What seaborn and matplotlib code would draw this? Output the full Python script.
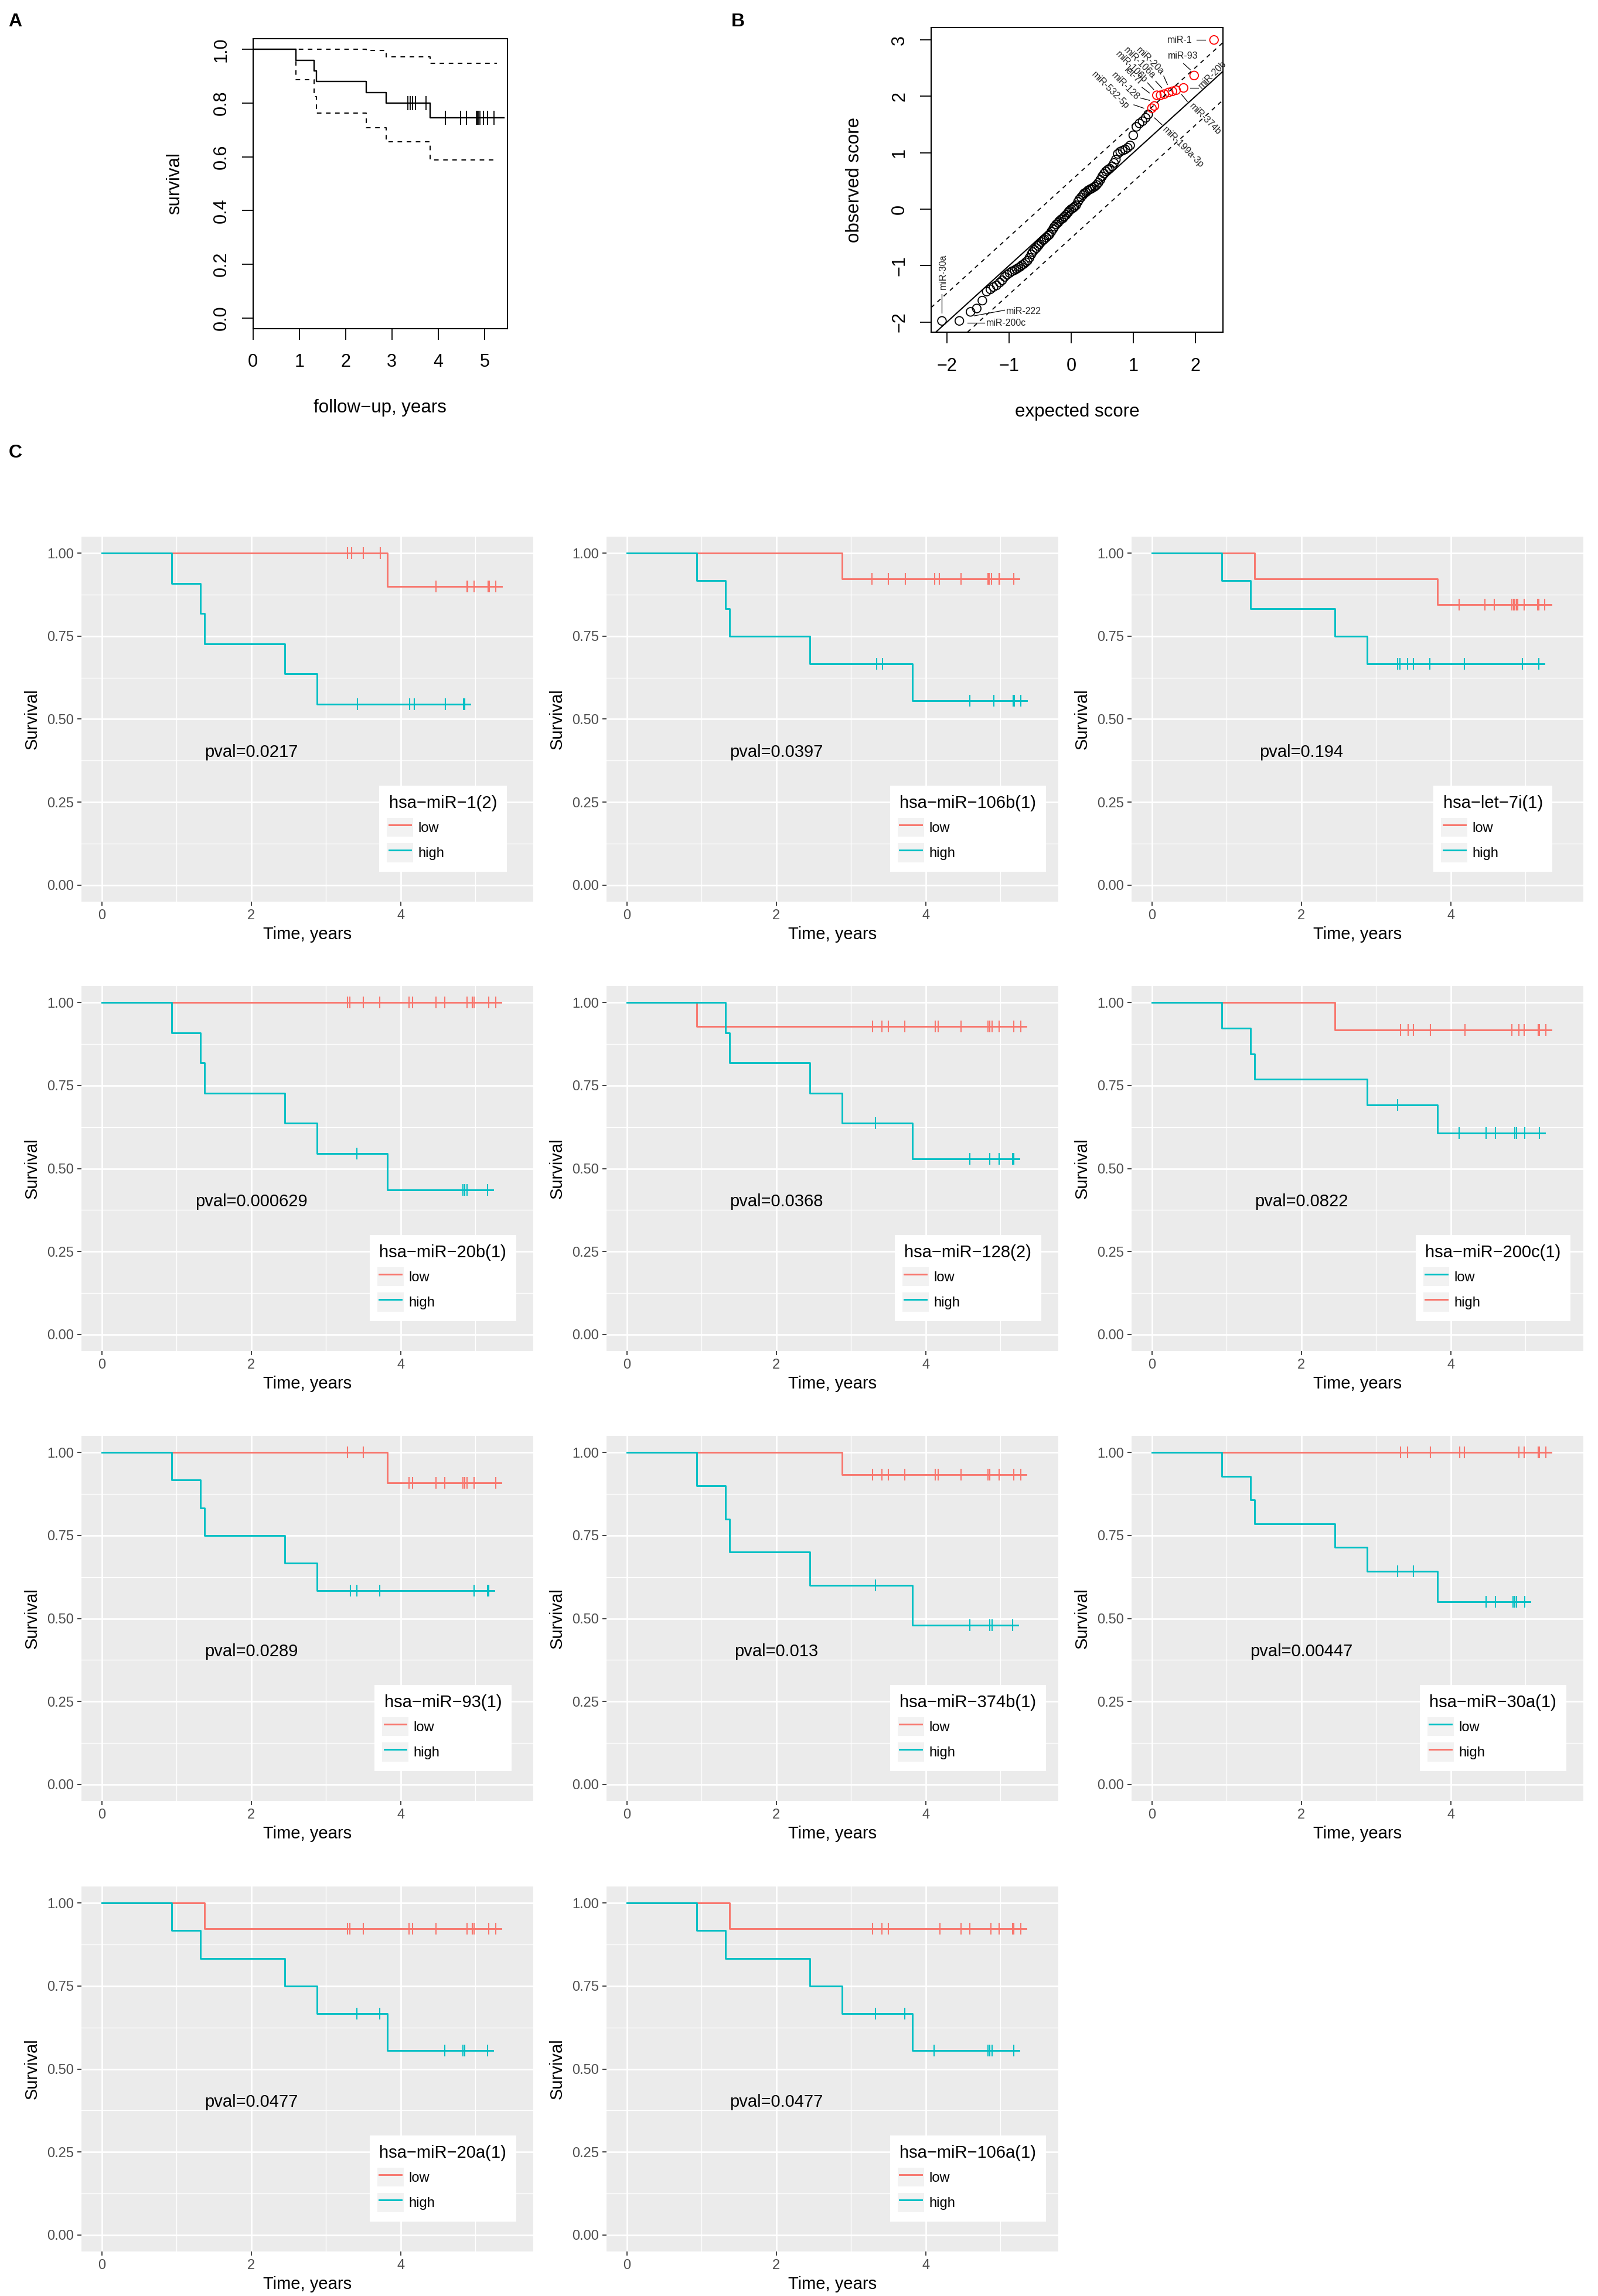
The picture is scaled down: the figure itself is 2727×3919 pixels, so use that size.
import numpy as np
import matplotlib
matplotlib.use("Agg")
import matplotlib.pyplot as plt
import seaborn as sns
from matplotlib.lines import Line2D
from matplotlib.patches import Rectangle
from matplotlib.legend_handler import HandlerLine2D

W, H = 2727, 3919
RED = "#F8766D"
TEAL = "#00BFC4"

# ---------------- Panel A: overall Kaplan-Meier ----------------
A_EVENT_T = [0.93, 1.32, 1.37, 2.45, 2.88, 3.82]
A_SURV = [0.96, 0.92, 0.88, 0.84, 0.80, 0.745]
A_CENSOR = [3.34, 3.39, 3.45, 3.51, 3.74, 4.15, 4.49, 4.61, 4.83, 4.85, 4.87,
            4.90, 4.98, 5.07, 5.20]
A_END = 5.42
A_UP_T = [2.45, 2.88, 3.82]
A_UP_V = [0.997, 0.973, 0.948]
A_UP_END = 5.27
A_LO_T = [0.93, 1.32, 1.37, 2.45, 2.88, 3.82]
A_LO_V = [0.887, 0.825, 0.763, 0.709, 0.657, 0.588]
A_LO_END = 5.21

# ---------------- Panel B: observed vs expected scores ----------------
EXP_BLACK = [-2.08, -1.80, -1.62, -1.52, -1.43, -1.36, -1.30, -1.25, -1.20, -1.15,
             -1.11, -1.07, -1.03, -0.99, -0.95, -0.91, -0.88, -0.85, -0.82, -0.79,
             -0.76, -0.73, -0.70, -0.67, -0.64, -0.62, -0.59, -0.56, -0.53, -0.51,
             -0.48, -0.45, -0.43, -0.40, -0.37, -0.35, -0.32, -0.29, -0.27, -0.24,
             -0.21, -0.19, -0.16, -0.13, -0.11, -0.08, -0.05, -0.03, 0.00, 0.03,
             0.05, 0.08, 0.11, 0.13, 0.16, 0.19, 0.21, 0.24, 0.27, 0.30,
             0.32, 0.35, 0.38, 0.41, 0.44, 0.47, 0.50, 0.53, 0.56, 0.59,
             0.62, 0.66, 0.69, 0.72, 0.75, 0.79, 0.83, 0.87, 0.91, 0.95,
             1.00, 1.05, 1.10, 1.15, 1.20, 1.24]
OBS_BLACK = [-1.98, -1.98, -1.82, -1.76, -1.62, -1.46, -1.42, -1.38, -1.35, -1.30,
             -1.26, -1.20, -1.16, -1.13, -1.10, -1.08, -1.06, -1.04, -1.02, -0.99,
             -0.97, -0.94, -0.91, -0.86, -0.80, -0.76, -0.72, -0.69, -0.65, -0.62,
             -0.58, -0.55, -0.53, -0.50, -0.47, -0.45, -0.40, -0.35, -0.31, -0.27,
             -0.24, -0.21, -0.18, -0.16, -0.13, -0.10, -0.06, -0.03, 0.00, 0.02,
             0.04, 0.07, 0.13, 0.17, 0.21, 0.25, 0.28, 0.30, 0.33, 0.35,
             0.36, 0.38, 0.40, 0.43, 0.47, 0.52, 0.58, 0.63, 0.67, 0.70,
             0.72, 0.76, 0.82, 0.88, 0.98, 1.02, 1.04, 1.06, 1.09, 1.13,
             1.31, 1.46, 1.52, 1.56, 1.62, 1.68]
EXP_RED = [1.30, 1.34, 1.38, 1.44, 1.50, 1.57, 1.63, 1.69, 1.81, 1.98, 2.30]
OBS_RED = [1.79, 1.83, 2.02, 2.02, 2.04, 2.07, 2.09, 2.11, 2.15, 2.37, 3.00]
DELTA = 0.51

B_LABELS = ["miR-1", "miR-93", "miR-20b", "miR-374b", "miR-199a-3p", "miR-20a",
            "miR-106a", "miR-106b", "let-7i", "miR-128", "miR-532-5p",
            "miR-30a", "miR-222", "miR-200c"]
B_LAB_X = [1.95, 1.80, 2.07, 1.93, 1.49, 1.47, 1.33, 1.20, 1.11, 1.07, 0.91,
           -2.06, -1.05, -1.37]
B_LAB_Y = [3.00, 2.72, 2.16, 1.85, 1.44, 2.41, 2.34, 2.27, 2.24, 1.96, 1.80,
           -1.42, -1.81, -2.02]
B_LAB_ROT = [0, 0, 45, -45, -45, -45, -45, -45, -45, -45, -45, 90, 0, 0]
B_LAB_HA = ["right", "center", "left", "left", "left", "right", "right", "right",
            "right", "right", "right", "left", "left", "left"]
B_LEAD_X0 = [2.02, 1.81, 1.92, 1.78, 1.34, 1.49, 1.36, 1.23, 1.14, 1.12, 1.01,
             -2.08, -1.56, -1.67]
B_LEAD_Y0 = [3.00, 2.58, 2.15, 2.03, 1.62, 2.36, 2.27, 2.24, 2.16, 1.97, 1.85,
             -1.50, -1.89, -2.01]
B_LEAD_X1 = [2.16, 1.92, 2.05, 1.87, 1.46, 1.55, 1.46, 1.33, 1.26, 1.26, 1.17,
             -2.08, -1.07, -1.40]
B_LEAD_Y1 = [3.00, 2.47, 2.15, 1.91, 1.50, 2.21, 2.15, 2.12, 2.06, 1.93, 1.79,
             -1.84, -1.79, -2.01]

# ---------------- Panel C: Kaplan-Meier per miRNA ----------------
TITLES = ["hsa\u2212miR\u22121(2)", "hsa\u2212miR\u2212106b(1)", "hsa\u2212let\u22127i(1)",
          "hsa\u2212miR\u221220b(1)", "hsa\u2212miR\u2212128(2)", "hsa\u2212miR\u2212200c(1)",
          "hsa\u2212miR\u221293(1)", "hsa\u2212miR\u2212374b(1)", "hsa\u2212miR\u221230a(1)",
          "hsa\u2212miR\u221220a(1)", "hsa\u2212miR\u2212106a(1)"]
PVALS = ["0.0217", "0.0397", "0.194", "0.000629", "0.0368", "0.0822",
         "0.0289", "0.013", "0.00447", "0.0477", "0.0477"]
LOW_IS_TEAL = [False, False, False, False, False, True, False, False, True, False, False]

LOW_EVENT_T = [[3.82], [2.88], [1.37, 3.82], [], [0.93],
               [0.93, 1.32, 1.37, 2.88, 3.82], [3.82], [2.88],
               [0.93, 1.32, 1.37, 2.45, 2.88, 3.82], [1.37], [1.37]]
LOW_SURV = [[0.90], [0.923], [0.923, 0.846], [], [0.929],
            [0.923, 0.846, 0.769, 0.692, 0.606], [0.909], [0.933],
            [0.929, 0.857, 0.786, 0.714, 0.643, 0.551], [0.923], [0.923]]
LOW_CENSOR = [[3.29, 3.34, 3.50, 3.73, 4.47, 4.89, 4.90, 4.98, 5.17, 5.19, 5.27],
              [3.28, 3.50, 3.73, 4.12, 4.18, 4.47, 4.83, 4.85, 4.88, 4.98, 4.99, 5.18],
              [4.11, 4.46, 4.58, 4.82, 4.84, 4.86, 4.88, 4.90, 4.98, 5.16, 5.18, 5.26],
              [3.29, 3.32, 3.50, 3.72, 4.11, 4.16, 4.47, 4.59, 4.89, 4.96, 4.98, 5.18, 5.27],
              [3.29, 3.41, 3.50, 3.72, 4.13, 4.17, 4.47, 4.83, 4.86, 4.89, 4.98, 5.18, 5.27],
              [3.29, 4.11, 4.47, 4.60, 4.86, 4.88, 4.99, 5.19],
              [3.29, 3.50, 4.11, 4.16, 4.47, 4.59, 4.83, 4.86, 4.89, 4.98, 5.27],
              [3.29, 3.41, 3.50, 3.72, 4.13, 4.17, 4.47, 4.83, 4.86, 4.98, 5.18, 5.27],
              [3.29, 3.50, 4.47, 4.60, 4.83, 4.86, 4.88, 4.99],
              [3.29, 3.32, 3.50, 4.11, 4.16, 4.47, 4.89, 4.96, 4.98, 5.18, 5.27],
              [3.29, 3.41, 3.50, 4.19, 4.47, 4.59, 4.87, 4.98, 5.16, 5.18, 5.27]]
LOW_END = [5.35, 5.25, 5.34, 5.34, 5.34, 5.26, 5.34, 5.34, 5.06, 5.34, 5.34]

HIGH_EVENT_T = [[0.93, 1.32, 1.37, 2.45, 2.88], [0.93, 1.32, 1.37, 2.45, 3.82],
                [0.93, 1.32, 2.45, 2.88], [0.93, 1.32, 1.37, 2.45, 2.88, 3.82],
                [1.32, 1.37, 2.45, 2.88, 3.82], [2.45],
                [0.93, 1.32, 1.37, 2.45, 2.88], [0.93, 1.32, 1.37, 2.45, 3.82],
                [], [0.93, 1.32, 2.45, 2.88, 3.82], [0.93, 1.32, 2.45, 2.88, 3.82]]
HIGH_SURV = [[0.909, 0.818, 0.727, 0.636, 0.545], [0.917, 0.833, 0.75, 0.667, 0.556],
             [0.917, 0.833, 0.75, 0.667], [0.909, 0.818, 0.727, 0.636, 0.545, 0.436],
             [0.909, 0.818, 0.727, 0.636, 0.530], [0.917],
             [0.917, 0.833, 0.75, 0.667, 0.583], [0.90, 0.80, 0.70, 0.60, 0.48],
             [], [0.917, 0.833, 0.75, 0.667, 0.556], [0.917, 0.833, 0.75, 0.667, 0.556]]
HIGH_CENSOR = [[3.42, 4.12, 4.18, 4.60, 4.84, 4.86],
               [3.34, 3.42, 4.59, 4.91, 5.17, 5.19, 5.27],
               [3.29, 3.32, 3.42, 3.50, 3.72, 4.18, 4.96, 5.18],
               [3.41, 4.83, 4.86, 4.89, 5.16],
               [3.33, 4.59, 4.86, 4.98, 5.16, 5.18],
               [3.33, 3.43, 3.50, 3.73, 4.19, 4.82, 4.91, 4.98, 5.17, 5.19, 5.27],
               [3.33, 3.41, 3.72, 4.98, 5.16, 5.18],
               [3.33, 4.59, 4.86, 4.89, 5.16],
               [3.33, 3.42, 3.73, 4.12, 4.18, 4.91, 4.98, 5.17, 5.19, 5.27],
               [3.41, 3.72, 4.59, 4.83, 4.86, 5.16],
               [3.33, 3.72, 4.11, 4.83, 4.86, 4.89, 5.18]]
HIGH_END = [4.93, 5.35, 5.25, 5.23, 5.25, 5.34, 5.25, 5.23, 5.34, 5.23, 5.25]

# ---------------- helpers ----------------
plt.rcParams['font.family'] = ['Liberation Sans', 'DejaVu Sans']
plt.rcParams['axes.unicode_minus'] = True

fig = plt.figure(figsize=(W / 100, H / 100), dpi=100)


def px_rect(l, t, r, b):
    return [l / W, 1 - b / H, (r - l) / W, (b - t) / H]


def step_xy(ev_t, ev_s, end):
    x = [0.0] + list(ev_t) + [end]
    y = [1.0] + list(ev_s) + [ev_s[-1] if len(ev_s) else 1.0]
    return x, y


def surv_at(ts, ev_t, ev_s):
    levels = [1.0] + list(ev_s)
    idx = np.searchsorted(np.asarray(ev_t, dtype=float), np.asarray(ts, dtype=float), side="right")
    return [levels[i] for i in idx]


def place_labels(ax, l, t, r, b, xlab_cy, ylab_cx):
    ax.xaxis.set_label_coords(0.5, (b - xlab_cy) / (b - t))
    ax.yaxis.set_label_coords((ylab_cx - l) / (r - l), 0.5)
    ax.xaxis.label.set_verticalalignment("center")
    ax.yaxis.label.set_verticalalignment("center")


class KeyHandler(HandlerLine2D):
    def create_artists(self, legend, orig_handle, xdescent, ydescent, width, height,
                       fontsize, trans):
        arts = super().create_artists(legend, orig_handle, xdescent, ydescent, width,
                                      height, fontsize, trans)
        rect = Rectangle((-xdescent - 2.5, -ydescent), width + 5, height,
                         facecolor="#F2F2F2", edgecolor="none", transform=trans)
        return [rect] + list(arts)


# ---------------- Panel A ----------------
la, ta, ra, ba = 431.6, 66, 865.5, 561
axA = fig.add_axes(px_rect(la, ta, ra, ba))
x, y = step_xy(A_EVENT_T, A_SURV, A_END)
sns.lineplot(x=x, y=y, drawstyle="steps-post", color="black", lw=1.7,
             estimator=None, sort=False, legend=False, ax=axA)
x, y = step_xy(A_UP_T, A_UP_V, A_UP_END)
sns.lineplot(x=x, y=y, drawstyle="steps-post", color="black", lw=1.4,
             linestyle=(0, (4, 4)), estimator=None, sort=False, legend=False, ax=axA)
x, y = step_xy(A_LO_T, A_LO_V, A_LO_END)
sns.lineplot(x=x, y=y, drawstyle="steps-post", color="black", lw=1.4,
             linestyle=(0, (4, 4)), estimator=None, sort=False, legend=False, ax=axA)
axA.plot(A_CENSOR, surv_at(A_CENSOR, A_EVENT_T, A_SURV), ls="none", marker="|",
         ms=17, mew=1.3, color="black")
axA.set_xlim(0, 5.49)
axA.set_ylim(-0.04, 1.04)
axA.set_xticks(range(6))
axA.set_xticklabels([str(v) for v in range(6)])
yt = [0.0, 0.2, 0.4, 0.6, 0.8, 1.0]
axA.set_yticks(yt)
axA.set_yticklabels([f"{v:.1f}" for v in yt])
for s in axA.spines.values():
    s.set_linewidth(1.5)
axA.tick_params(axis="both", direction="out", length=14, width=1.3, labelsize=22,
                colors="black")
axA.tick_params(axis="x", pad=16)
axA.tick_params(axis="y", pad=14, labelrotation=90)
for lab in axA.get_yticklabels():
    lab.set_verticalalignment("center")
axA.set_xlabel("follow\u2212up, years", fontsize=22.5)
axA.set_ylabel("survival", fontsize=22.5)
place_labels(axA, la, ta, ra, ba, 696, 298)
fig.text(14 / W, 1 - 22 / H, "A", fontsize=23, fontweight="bold", ha="left", va="top")

# ---------------- Panel B ----------------
lb, tb, rb, bb = 1589, 47, 2087, 567
axB = fig.add_axes(px_rect(lb, tb, rb, bb))
axB.axline((0, 0), slope=1, color="black", lw=1.5)
axB.axline((0, DELTA), slope=1, color="black", lw=1.3, linestyle=(0, (4, 4)))
axB.axline((0, -DELTA), slope=1, color="black", lw=1.3, linestyle=(0, (4, 4)))
sns.scatterplot(x=EXP_BLACK, y=OBS_BLACK, marker="o", s=110, color="black",
                linewidth=1.3, legend=False, ax=axB)
axB.collections[-1].set_facecolor("none")
axB.collections[-1].set_edgecolor("black")
sns.scatterplot(x=EXP_RED, y=OBS_RED, marker="o", s=110, color="red",
                linewidth=1.3, legend=False, ax=axB)
axB.collections[-1].set_facecolor("none")
axB.collections[-1].set_edgecolor("red")
for i, name in enumerate(B_LABELS):
    axB.plot([B_LEAD_X0[i], B_LEAD_X1[i]], [B_LEAD_Y0[i], B_LEAD_Y1[i]],
             color="black", lw=0.9)
    axB.text(B_LAB_X[i], B_LAB_Y[i], name, fontsize=11.5, color="#222222",
             rotation=B_LAB_ROT[i], rotation_mode="anchor", ha=B_LAB_HA[i], va="center")
axB.set_xlim(-2.254, 2.444)
axB.set_ylim(-2.18, 3.22)
axB.set_xticks([-2, -1, 0, 1, 2])
axB.set_yticks([-2, -1, 0, 1, 2, 3])
for s in axB.spines.values():
    s.set_linewidth(1.5)
axB.tick_params(axis="both", direction="out", length=14, width=1.3, labelsize=22,
                colors="black")
axB.tick_params(axis="x", pad=17)
axB.tick_params(axis="y", pad=14, labelrotation=90)
for lab in axB.get_yticklabels():
    lab.set_verticalalignment("center")
axB.set_xlabel("expected score", fontsize=22.5)
axB.set_ylabel("observed score", fontsize=22.5)
place_labels(axB, lb, tb, rb, bb, 703, 1457.5)
fig.text(1248 / W, 1 - 22 / H, "B", fontsize=23, fontweight="bold", ha="left", va="top")

# ---------------- Panel C ----------------
fig.text(15 / W, 1 - 758 / H, "C", fontsize=23, fontweight="bold", ha="left", va="top")
COL_L = [139, 1035, 1931]
ROW_T = [916, 1683, 2451, 3220]
PW, PH = 771, 623

for i in range(len(TITLES)):
    r, c = divmod(i, 3)
    l, t = COL_L[c], ROW_T[r]
    rr, bt = l + PW, t + PH
    ax = fig.add_axes(px_rect(l, t, rr, bt))
    ax.set_facecolor("#EBEBEB")
    for s in ax.spines.values():
        s.set_visible(False)
    low_col = TEAL if LOW_IS_TEAL[i] else RED
    high_col = RED if LOW_IS_TEAL[i] else TEAL
    groups = [("low", LOW_EVENT_T[i], LOW_SURV[i], LOW_CENSOR[i], LOW_END[i], low_col),
              ("high", HIGH_EVENT_T[i], HIGH_SURV[i], HIGH_CENSOR[i], HIGH_END[i], high_col)]
    draw_order = sorted(groups, key=lambda g: 0 if g[5] == RED else 1)
    for name, ev_t, ev_s, cen, end, col in draw_order:
        x, y = step_xy(ev_t, ev_s, end)
        sns.lineplot(x=x, y=y, drawstyle="steps-post", color=col, lw=2.1,
                     estimator=None, sort=False, legend=False, ax=ax)
        ax.plot(cen, surv_at(cen, ev_t, ev_s), ls="none", marker="|", ms=14,
                mew=1.5, color=col)
    ax.set_xlim(-0.275, 5.775)
    ax.set_ylim(-0.05, 1.05)
    ax.set_xticks([0, 2, 4])
    ax.set_xticks([1, 3, 5], minor=True)
    ax.set_yticks([0, 0.25, 0.5, 0.75, 1.0])
    ax.set_yticklabels(["0.00", "0.25", "0.50", "0.75", "1.00"])
    ax.set_yticks([0.125, 0.375, 0.625, 0.875], minor=True)
    ax.grid(which="major", color="white", lw=2.0)
    ax.grid(which="minor", color="white", lw=1.0)
    ax.set_axisbelow(True)
    ax.tick_params(which="major", length=5, width=1.3, color="#333333", labelsize=17,
                   labelcolor="#4D4D4D", pad=4.5)
    ax.tick_params(which="minor", length=0)
    ax.set_xlabel("Time, years", fontsize=21)
    ax.set_ylabel("Survival", fontsize=21)
    place_labels(ax, l, t, rr, bt, bt + 56, l - 84.5)
    ax.text(2, 0.4, "pval=" + PVALS[i], ha="center", va="center", fontsize=21,
            color="black")
    handles = [Line2D([], [], color=low_col, lw=2.1), Line2D([], [], color=high_col, lw=2.1)]
    leg = ax.legend(handles, ["low", "high"], title=TITLES[i], loc="center",
                    bbox_to_anchor=(0.8, 0.2), fontsize=17, title_fontsize=21,
                    frameon=True, fancybox=False, framealpha=1, facecolor="white",
                    edgecolor="none", borderpad=0.7, handlelength=1.6,
                    handleheight=1.75, labelspacing=0.45, handletextpad=0.5,
                    alignment="left", handler_map={Line2D: KeyHandler()})
    leg.get_frame().set_linewidth(0)

fig.savefig("out.png", dpi=100)
